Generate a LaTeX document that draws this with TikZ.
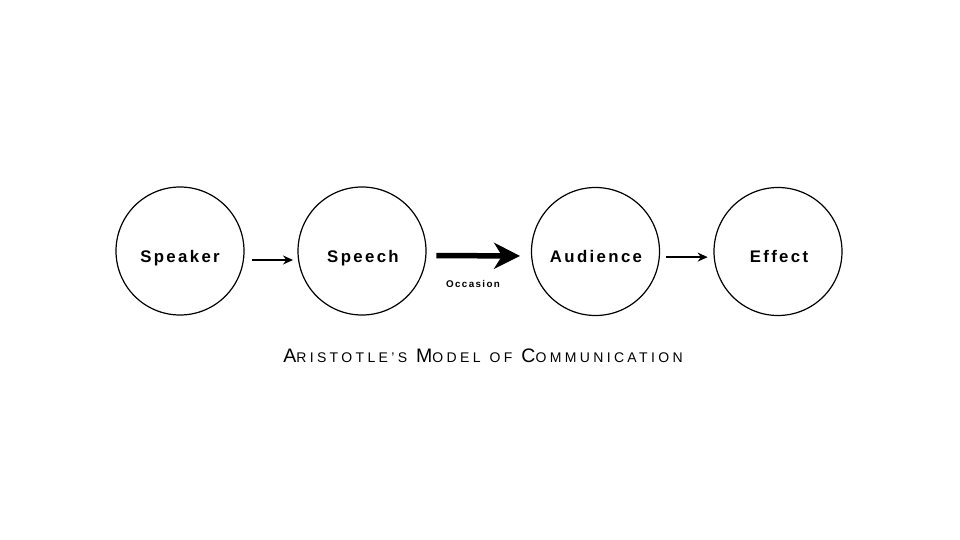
\documentclass[tikz,border=0pt]{standalone}
\usepackage{fontspec}
\setmainfont{Liberation Sans}
\newfontfamily\stagefont[LetterSpace=14]{Liberation Sans}
\newfontfamily\titlefamily[LetterSpace=24]{Liberation Sans}
\usetikzlibrary{calc,arrows.meta}

\newcommand{\capletter}[1]{{\fontsize{19.5}{20}\selectfont #1}}
\newcommand{\gap}{\hspace{9pt}}

\begin{document}
\begin{tikzpicture}[x=1pt, y=-1pt, line join=round,
    stage/.style={draw, circle, minimum size=128pt, inner sep=0pt, line width=1.2pt},
    word/.style={anchor=base, font=\stagefont\bfseries\fontsize{16.8}{18}\selectfont},
    note/.style={anchor=base, font=\stagefont\bfseries\fontsize{9.8}{11}\selectfont},
    flow/.style={-{Stealth[length=10pt, width=9pt]}, line width=1.4pt},
    bigflow/.style={-{Stealth[length=26pt, width=26pt, inset=8pt]}, line width=5.5pt}]
    \useasboundingbox (0,0) rectangle (960,540);
    % the four stages
    \node[stage] (speaker) at (180,251) {};
    \node[stage] (speech) at (362,251) {};
    \node[stage] (audience) at (595.5,251.5) {};
    \node[stage] (effect) at (778,251.5) {};
    \node[word] (speakerlbl) at (180,262) {Speaker};
    \node[word] (speechlbl) at (363,262) {Speech};
    \node[word] (audiencelbl) at (596,262.5) {Audience};
    \node[word] (effectlbl) at (779,262.5) {Effect};
    % arrows between them
    \draw[flow, shorten <=8pt, shorten >=5pt] (speaker.-8) -- (speech.188);
    \draw[bigflow, shorten <=10pt, shorten >=11pt] (speech.-4.5) -- (audience.184.5);
    \draw[flow, shorten <=6pt, shorten >=6pt] (audience.-5) -- (effect.185);
    \node[note] (occasion) at (473,287) {Occasion};
    % caption
    \node[anchor=base, font=\titlefamily\fontsize{14}{15}\selectfont] (caption) at (483,362)
        {\capletter{A}RISTOTLE’S\gap\capletter{M}ODEL\gap OF\gap\capletter{C}OMMUNICATION};
\end{tikzpicture}
\end{document}
